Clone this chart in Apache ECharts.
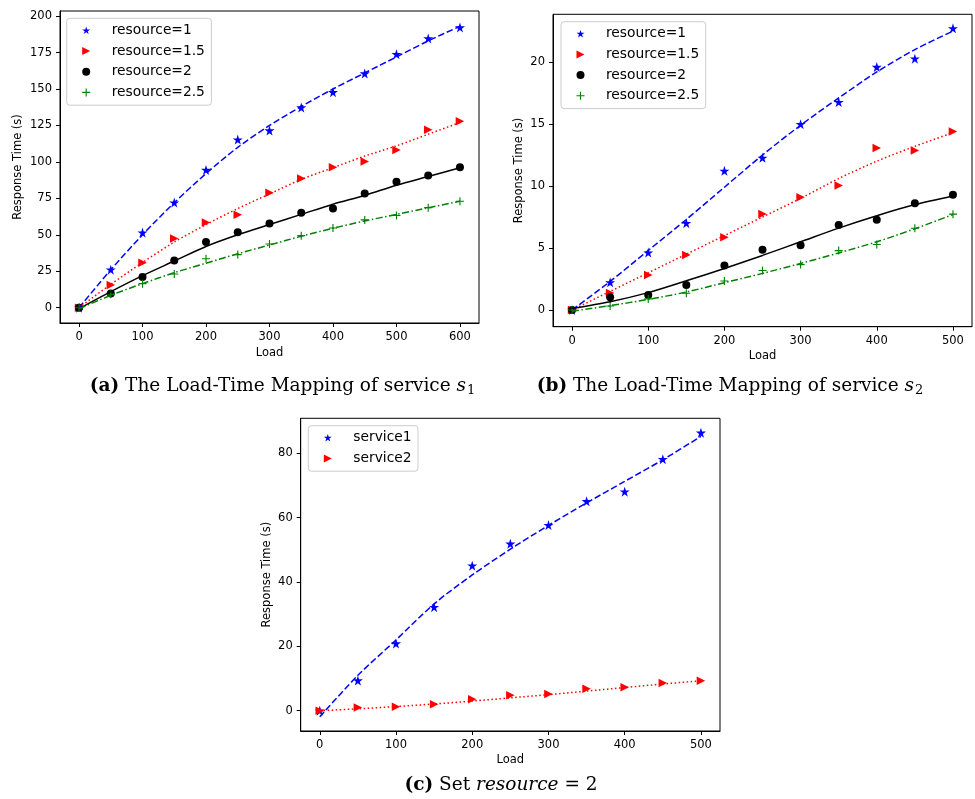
<!DOCTYPE html>
<html>
<head>
<meta charset="utf-8">
<script src="https://cdn.jsdelivr.net/npm/echarts@6/dist/echarts.min.js"></script>
<style>
html,body{margin:0;padding:0;background:#fff;}
#chart{width:975px;height:799px;}
</style>
</head>
<body>
<div id="chart"></div>
<script>
// ---------- data ----------
const loadA = [0, 50, 100, 150, 200, 250, 300, 350, 400, 450, 500, 550, 600];
const loadB = [0, 50, 100, 150, 200, 250, 300, 350, 400, 450, 500];

// (a) service s1
const s1Res1   = [0, 26.1, 51.5, 72.1, 94.5, 115.3, 121.5, 137.3, 147.8, 160.6, 173.9, 184.7, 192.2];
const s1Res15  = [0, 15.6, 30.9, 47.4, 58.4, 63.8, 78.9, 88.6, 96.3, 100.2, 108.2, 122.0, 127.9];
const s1Res2   = [0, 9.8, 21.1, 32.3, 45.1, 51.7, 57.7, 65.2, 68.0, 78.3, 86.3, 90.6, 96.3];
const s1Res25  = [0, 9.2, 16.5, 23.1, 33.6, 36.4, 43.7, 49.4, 54.7, 60.2, 63.2, 68.6, 73.0];
const s1Fit1   = [0, 26, 50, 72, 92, 110, 125, 138, 150, 161, 172, 183, 193];
const s1Fit15  = [0, 16, 31, 45, 57, 68, 78, 88, 96, 104, 111, 119, 127];
const s1Fit2   = [-0.7, 11, 22, 32, 42, 50, 57, 64, 71, 77, 84, 90, 96];
const s1Fit25  = [-0.7, 8.5, 16.5, 24, 30.5, 37, 43, 49, 54.5, 59.5, 64, 68.5, 73];

// (b) service s2
const s2Res1   = [0, 2.23, 4.63, 7.0, 11.22, 12.27, 14.99, 16.77, 19.6, 20.27, 22.72];
const s2Res15  = [0, 1.37, 2.83, 4.44, 5.87, 7.75, 9.1, 10.04, 13.06, 12.87, 14.4];
const s2Res2   = [0, 1.02, 1.21, 2.02, 3.58, 4.85, 5.22, 6.86, 7.27, 8.61, 9.29];
const s2Res25  = [0, 0.32, 0.89, 1.35, 2.34, 3.18, 3.66, 4.79, 5.28, 6.59, 7.73];
const s2Fit1   = [0, 2.3, 4.8, 7.3, 9.9, 12.5, 14.9, 17.1, 19.2, 21.0, 22.5];
const s2Fit15  = [0, 1.5, 3.0, 4.5, 6.0, 7.5, 9.0, 10.6, 12.0, 13.2, 14.3];
const s2Fit2   = [0.13, 0.67, 1.4, 2.35, 3.35, 4.4, 5.5, 6.6, 7.6, 8.5, 9.2];
const s2Fit25  = [-0.1, 0.35, 0.85, 1.45, 2.2, 2.95, 3.75, 4.6, 5.5, 6.55, 7.7];

// (c) resource = 2
const cService1 = [0, 9.4, 20.9, 32.2, 45.1, 51.9, 57.7, 65.1, 68.1, 78.2, 86.4];
const cService2 = [0, 1.02, 1.21, 2.02, 3.58, 4.85, 5.22, 6.86, 7.27, 8.61, 9.29];
const cFit1     = [-1.9, 11, 22, 33.2, 42.2, 50.2, 57.6, 64.6, 71.3, 78, 85.3];
const cFit2     = [0, 0.6, 1.3, 2.1, 3.0, 4.0, 5.0, 6.1, 7.2, 8.3, 9.3];

// ticks
const xTicksA = [0, 100, 200, 300, 400, 500, 600];
const yTicksA = [0, 25, 50, 75, 100, 125, 150, 175, 200];
const xTicksB = [0, 100, 200, 300, 400, 500];
const yTicksB = [0, 5, 10, 15, 20];
const xTicksC = [0, 100, 200, 300, 400, 500];
const yTicksC = [0, 20, 40, 60, 80];

const resNames = ['resource=1', 'resource=1.5', 'resource=2', 'resource=2.5'];
const svcNames = ['service1', 'service2'];

// ---------- styles ----------
const SANS = 'DejaVu Sans';
const SERIF = 'DejaVu Serif';
const STAR = 'path://M50,0L61.23,34.55L97.55,34.55L68.17,55.9L79.39,90.45L50,69.1L20.61,90.45L31.83,55.9L2.45,34.55L38.77,34.55Z';
const TRI_R = 'path://M0,0L10,5L0,10Z';
const PLUS = 'path://M4.3,0H5.7V4.3H10V5.7H5.7V10H4.3V5.7H0V4.3H4.3Z';

const styles = [
  {color: '#0000ff', symbol: STAR, size: 10, dash: [6.5, 2.8]},
  {color: '#ff0000', symbol: TRI_R, size: 8.5, dash: [1.5, 2.5]},
  {color: '#000000', symbol: 'circle', size: 8, dash: 'solid'},
  {color: '#008000', symbol: PLUS, size: 8, dash: [7, 2.5, 1.5, 2.5]}
];

function pairs(xs, ys) { return xs.map((x, i) => [x, ys[i]]); }

function scatter(name, idx, xs, ys, st) {
  return {
    type: 'scatter', name: name, xAxisIndex: idx, yAxisIndex: idx,
    data: pairs(xs, ys), symbol: st.symbol, symbolSize: st.size,
    itemStyle: {color: st.color, opacity: 1}, z: 2, silent: true
  };
}
function fit(idx, xs, ys, st) {
  return {
    type: 'line', name: '_fit', xAxisIndex: idx, yAxisIndex: idx,
    data: pairs(xs, ys), showSymbol: false, smooth: 0.3,
    lineStyle: {color: st.color, width: 1.5, type: st.dash, cap: 'butt'},
    z: 3, silent: true
  };
}

function xAxis(idx, min, max, ticks, gap) {
  return {
    type: 'value', gridIndex: idx, min: min, max: max, position: 'bottom',
    name: 'Load', nameLocation: 'middle', nameGap: gap,
    nameTextStyle: {fontFamily: SANS, fontSize: 11.5, color: '#000'},
    axisLine: {show: true, onZero: false, lineStyle: {color: '#000', width: 1}},
    axisTick: {show: true, length: 4, inside: false, customValues: ticks, lineStyle: {color: '#000', width: 1}},
    axisLabel: {customValues: ticks, margin: 8, fontFamily: SANS, fontSize: 11.5, color: '#000'},
    splitLine: {show: false}
  };
}
function yAxis(idx, min, max, ticks, gap) {
  return {
    type: 'value', gridIndex: idx, min: min, max: max, position: 'left',
    name: 'Response Time (s)', nameLocation: 'middle', nameGap: gap, nameRotate: 90,
    nameTextStyle: {fontFamily: SANS, fontSize: 11.5, color: '#000'},
    axisLine: {show: true, onZero: false, lineStyle: {color: '#000', width: 1}},
    axisTick: {show: true, length: 4, inside: false, customValues: ticks, lineStyle: {color: '#000', width: 1}},
    axisLabel: {customValues: ticks, margin: 8, fontFamily: SANS, fontSize: 11.5, color: '#000'},
    splitLine: {show: false}
  };
}
function legend(left, top, names) {
  return {
    orient: 'vertical', left: left, top: top, data: names,
    itemWidth: 8, itemHeight: 8, itemGap: 6.7,
    padding: [5, 6.5, 5.8, 15.5],
    borderColor: '#cccccc', borderWidth: 1, borderRadius: 3,
    backgroundColor: 'rgba(255,255,255,0.8)', z: 10,
    selectedMode: false,
    textStyle: {fontFamily: SANS, fontSize: 13.8, color: '#000', lineHeight: 14, padding: [0, 0, 0, 16.5]}
  };
}
function caption(x, y, parts) {
  return {
    type: 'text', x: x, y: y,
    style: {
      text: parts, align: 'center', verticalAlign: 'middle',
      rich: {
        b: {fontFamily: SERIF, fontWeight: 'bold', fontSize: 18.5, color: '#000', lineHeight: 22},
        n: {fontFamily: SERIF, fontSize: 18.5, color: '#000', lineHeight: 22},
        i: {fontFamily: SERIF, fontStyle: 'italic', fontSize: 18.5, color: '#000', lineHeight: 22},
        sub: {fontFamily: SERIF, fontSize: 13, color: '#000', lineHeight: 22, verticalAlign: 'bottom', padding: [0, 0, 0, 1]}
      }
    }
  };
}

const series = [];
const resA = [s1Res1, s1Res15, s1Res2, s1Res25];
const fitA = [s1Fit1, s1Fit15, s1Fit2, s1Fit25];
const resB = [s2Res1, s2Res15, s2Res2, s2Res25];
const fitB = [s2Fit1, s2Fit15, s2Fit2, s2Fit25];
for (let k = 0; k < 4; k++) series.push(scatter(resNames[k], 0, loadA, resA[k], styles[k]));
for (let k = 0; k < 4; k++) series.push(fit(0, loadA, fitA[k], styles[k]));
for (let k = 0; k < 4; k++) series.push(scatter(resNames[k], 1, loadB, resB[k], styles[k]));
for (let k = 0; k < 4; k++) series.push(fit(1, loadB, fitB[k], styles[k]));
series.push(scatter(svcNames[0], 2, loadB, cService1, styles[0]));
series.push(scatter(svcNames[1], 2, loadB, cService2, styles[1]));
series.push(fit(2, loadB, cFit1, styles[0]));
series.push(fit(2, loadB, cFit2, styles[1]));

const gridBase = {show: true, borderColor: '#000', borderWidth: 1, backgroundColor: 'transparent', containLabel: false};

const option = {
  animation: false,
  backgroundColor: '#fff',
  grid: [
    Object.assign({left: 60, top: 11, width: 419, height: 312}, gridBase),
    Object.assign({left: 553, top: 14.3, width: 419, height: 312.4}, gridBase),
    Object.assign({left: 300.7, top: 418.3, width: 419.3, height: 312.7}, gridBase)
  ],
  xAxis: [
    xAxis(0, -30, 630, xTicksA, 24),
    xAxis(1, -25, 525, xTicksB, 23.5),
    xAxis(2, -25, 525, xTicksC, 23)
  ],
  yAxis: [
    yAxis(0, -10.5, 203.5, yTicksA, 36),
    yAxis(1, -1.35, 23.85, yTicksB, 28),
    yAxis(2, -6.3, 90.9, yTicksC, 28)
  ],
  legend: [
    legend(66.7, 18.3, resNames),
    legend(561, 21.7, resNames),
    legend(308.3, 425.7, svcNames)
  ],
  series: series,
  graphic: [
    caption(282.5, 386, '{b|(a)}{n| The Load-Time Mapping of service }{i|s}{sub|1}'),
    caption(730, 386, '{b|(b)}{n| The Load-Time Mapping of service }{i|s}{sub|2}'),
    caption(501, 785, '{b|(c)}{n| Set }{i|resource}{n| = 2}')
  ]
};

const chart = echarts.init(document.getElementById('chart'), null, {renderer: 'canvas'});
chart.setOption(option);
</script>
</body>
</html>
